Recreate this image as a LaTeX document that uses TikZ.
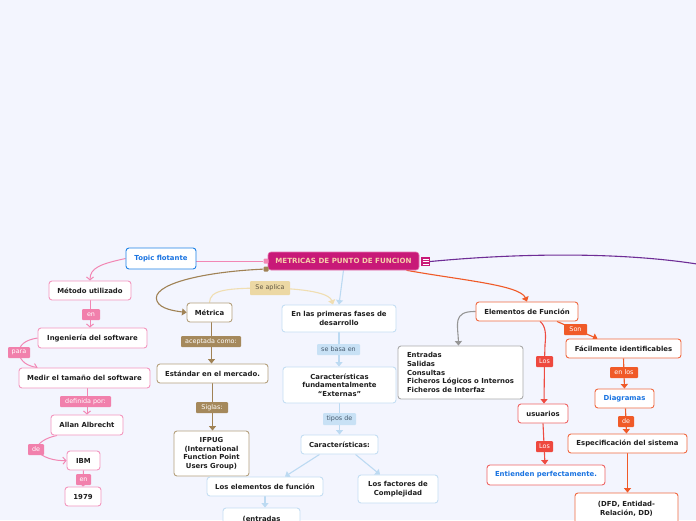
\documentclass[tikz,border=0pt]{standalone}
\usepackage{fontspec}
\setmainfont{DejaVu Sans}
\usetikzlibrary{arrows.meta,backgrounds}
\definecolor{bgc}{RGB}{243,245,254}
\definecolor{txt}{RGB}{30,30,30}
\definecolor{topicb}{RGB}{30,130,230}
\definecolor{bluet}{RGB}{25,115,225}
\definecolor{magc}{RGB}{200,25,120}
\definecolor{magl}{RGB}{230,120,175}
\definecolor{mainT}{RGB}{246,205,170}
\definecolor{purp}{RGB}{110,45,150}
\definecolor{pinkb}{RGB}{243,150,190}
\definecolor{pinkl}{RGB}{242,135,180}
\definecolor{pinkf}{RGB}{241,128,172}
\definecolor{brownb}{RGB}{180,160,125}
\definecolor{brownl}{RGB}{160,130,85}
\definecolor{brownf}{RGB}{165,137,92}
\definecolor{tanf}{RGB}{236,216,164}
\definecolor{tanl}{RGB}{240,222,178}
\definecolor{tant}{RGB}{95,85,65}
\definecolor{blueb}{RGB}{196,222,243}
\definecolor{bluel}{RGB}{188,218,242}
\definecolor{bluef}{RGB}{200,225,245}
\definecolor{bluelt}{RGB}{70,90,110}
\definecolor{orb}{RGB}{240,105,65}
\definecolor{orl}{RGB}{240,90,40}
\definecolor{orf}{RGB}{240,90,40}
\definecolor{redb}{RGB}{238,100,100}
\definecolor{redl}{RGB}{238,75,65}
\definecolor{redf}{RGB}{238,72,62}
\definecolor{grayb}{RGB}{170,170,170}
\definecolor{grayl}{RGB}{150,150,150}
\tikzset{
  sz/.style 2 args={minimum width=#1pt, minimum height=#2pt},
  box/.style={draw, fill=white, rounded corners=3pt, line width=0.9pt,
    font=\bfseries\fontsize{6.9}{8.6}\selectfont, text=txt, align=center, inner sep=1pt},
  pinkbox/.style={box, draw=pinkb},
  brownbox/.style={box, draw=brownb},
  bluebox/.style={box, draw=blueb},
  orbox/.style={box, draw=orb},
  redbox/.style={box, draw=redb},
  graybox/.style={box, draw=grayb},
  lab/.style={rounded corners=1pt, font=\fontsize{6.4}{7}\selectfont, text=white, inner sep=0pt},
  tipT/.style={-{Triangle[width=7pt,length=4.5pt]}},
  tipP/.style={-{Straight Barb[width=7pt,length=3pt]}},
  pinkc/.style={draw=pinkl, line width=1pt, tipP},
  brownc/.style={draw=brownl, line width=1.1pt, tipT},
  tanc/.style={draw=tanl, line width=1.1pt, tipT},
  bluec/.style={draw=bluel, line width=1.1pt, tipT},
  orc/.style={draw=orl, line width=1.1pt, tipT},
  redc/.style={draw=redl, line width=1.1pt, tipT},
  grayc/.style={draw=grayl, line width=1.1pt, tipT},
}
\begin{document}
\begin{tikzpicture}[x=1pt,y=-1pt]
\useasboundingbox (0,0) rectangle (696,520);
% central
\node[fill=magc, draw=magl, line width=0.6pt, rounded corners=3pt, text=mainT,
  font=\bfseries\fontsize{7.1}{8}\selectfont, sz={151}{18}, inner sep=0pt] (main) at (343.5,261) {METRICAS DE PUNTO DE FUNCION};
\node[fill=magc, sz={9}{9}, inner sep=0pt] (icon) at (425.5,261.5) {};
\draw[white, line width=0.6pt] (422.5,259) -- (428.5,259) (422.5,261.5) -- (428.5,261.5) (422.5,264) -- (428.5,264);
\node[fill=pinkl, rounded corners=1pt, sz={5}{5}, inner sep=0pt] (dp) at (266,261) {};
\node[fill=brownl, rounded corners=1pt, sz={5}{5}, inner sep=0pt] (db) at (266,269) {};
\coordinate (offr) at (697,264);
% topic flotante
\node[box, draw=topicb, text=bluet, sz={70}{21}] (topic) at (161,258.5) {Topic flotante};
% pink branch
\node[pinkbox, sz={82}{19}] (metodo) at (90,290.5) {Método utilizado};
\node[pinkbox, sz={109}{20}] (ingenieria) at (92.5,338) {Ingeniería del software};
\node[pinkbox, sz={131}{20}] (medir) at (84.5,378) {Medir el tamaño del software};
\node[pinkbox, sz={72}{20}] (allan) at (87,425) {Allan Albrecht};
\node[pinkbox, sz={33}{19}] (ibm) at (83.5,460.5) {IBM};
\node[pinkbox, sz={36}{19}] (y1979) at (83,496.5) {1979};
\node[lab, fill=pinkf, sz={18}{11}] (en1) at (91,314.5) {en};
\node[lab, fill=pinkf, sz={22}{11}] (para) at (19,352.5) {para};
\node[lab, fill=pinkf, sz={51}{11}] (definida) at (85.5,401.5) {definida por:};
\node[lab, fill=pinkf, sz={16}{11}] (de1) at (36,449.5) {de};
\node[lab, fill=pinkf, sz={15}{11}] (en2) at (83.5,479.5) {en};
% brown branch
\node[brownbox, sz={45}{19}] (metrica) at (209.5,312.5) {Métrica};
\node[brownbox, sz={111}{19}] (estandar) at (212.5,373.5) {Estándar en el mercado.};
\node[brownbox, sz={75}{45}] (ifpug) at (211.5,453.5) {IFPUG\\(International\\Function Point\\Users Group)};
\node[lab, fill=brownf, sz={60}{11}] (aceptada) at (211,341.5) {aceptada como:};
\node[lab, fill=brownf, sz={32}{11}] (siglas) at (212,407.5) {Siglas:};
\node[lab, fill=tanf, text=tant, sz={40}{14}] (seaplica) at (270,288) {Se aplica};
% blue branch
\node[bluebox, sz={114}{27}] (primeras) at (339,318.5) {En las primeras fases de\\desarrollo};
\node[bluebox, sz={113}{36}] (carfund) at (339.5,385) {Características\\fundamentalmente\\“Externas”};
\node[bluebox, sz={77}{19}] (caract) at (339.5,444.5) {Características:};
\node[bluebox, sz={116}{19}] (loselem) at (265,486.5) {Los elementos de función};
\node[bluebox, sz={80}{28}] (factores) at (398,489) {Los factores de\\Complejidad};
\node[bluebox, sz={77}{22}] (entr2) at (261.5,519) {(entradas};
\node[lab, fill=bluef, text=bluelt, sz={43}{11}] (sebasa) at (338.5,349.5) {se basa en};
\node[lab, fill=bluef, text=bluelt, sz={33}{12}] (tipos) at (339.5,419) {tipos de};
% orange / red branch
\node[orbox, sz={102}{19}] (elementos) at (527,311.5) {Elementos de Función};
\node[graybox, sz={125}{53}, align=left] (entradas) at (460.5,372.5) {Entradas\\Salidas\\Consultas\\Ficheros Lógicos o Internos\\Ficheros de Interfaz};
\node[orbox, sz={115}{19}] (facil) at (623.5,348.5) {Fácilmente identificables};
\node[orbox, sz={59}{19}, text=bluet] (diagramas) at (624.5,398.5) {Diagramas};
\node[orbox, sz={119}{19}] (espec) at (627.5,443.5) {Especificación del sistema};
\node[orbox, sz={103}{32}] (dfd) at (626.5,509) {(DFD, Entidad-\\Relación, DD)};
\node[redbox, sz={50}{19}] (usuarios) at (543,413.5) {usuarios};
\node[redbox, sz={118}{20}, text=bluet] (entienden) at (546,475) {Entienden perfectamente.};
\node[lab, fill=orf, sz={23}{11}] (son) at (575.5,329.5) {Son};
\node[lab, fill=orf, sz={28}{11}] (enlos) at (624,372.5) {en los};
\node[lab, fill=orf, sz={16}{11}] (de2) at (626,421.5) {de};
\node[lab, fill=redf, sz={17}{11}] (los1) at (544.5,361.5) {Los};
\node[lab, fill=redf, sz={17}{11}] (los2) at (544.5,446.5) {Los};
\begin{pgfonlayer}{background}
\fill[bgc] (0,0) rectangle (696,520);
% main links
\draw[draw=pinkl, line width=1pt] (dp) -- (dp -| topic.east);
\draw[draw=purp, line width=1.1pt] (icon.east) .. controls (520,253) and (620,252) .. (offr);
\draw[bluec] (main.south) -- (primeras.north);
\draw[orc] ([xshift=63pt]main.south) .. controls (460,280) and (520,285) .. (elementos.north);
\draw[brownc] (db) .. controls (200,272) and (150,285) .. (157,301) .. controls (160,309) and (175,311) .. (metrica.west);
% pink
\draw[pinkc] (topic.west) .. controls (100,264) and (90,268) .. (metodo.north);
\draw[pinkc] (metodo.south) -- (metodo.south |- ingenieria.north);
\draw[pinkc] (ingenieria.west) .. controls (25,340) and (19,345) .. (para.center) .. controls (20,362) and (28,366) .. ([xshift=19pt]medir.north west);
\draw[pinkc] (allan.north |- medir.south) -- (allan.north);
\draw[pinkc] ([xshift=-30pt]allan.south) .. controls (45,438) and (38,443) .. (de1.center) .. controls (42,458) and (55,461) .. (ibm.west);
\draw[pinkc] (ibm.south) -- (y1979.north);
% brown / tan
\draw[brownc] ([xshift=2pt]metrica.south) -- ([xshift=-1pt]estandar.north);
\draw[brownc] (estandar.south) -- (estandar.south |- ifpug.north);
\draw[tanc] (metrica.north) .. controls (210,290) and (225,288) .. (seaplica.center) .. controls (315,289) and (330,295) .. ([xshift=-6pt]primeras.north);
% blue
\draw[bluec] (primeras.south) -- (primeras.south |- carfund.north);
\draw[bluec] (carfund.south) -- (caract.north);
\draw[bluec] ([xshift=-20pt]caract.south) -- ([xshift=20pt]loselem.north);
\draw[bluec] ([xshift=16pt]caract.south) -- ([xshift=-18pt]factores.north);
\draw[bluec] (loselem.south) -- (loselem.south |- entr2.north);
% orange/red
\draw[grayc] (elementos.west) .. controls (452,311) and (458,325) .. ([xshift=-2pt]entradas.north);
\draw[orc] ([xshift=30pt]elementos.south) -- (son.center) -- ([xshift=-26pt]facil.north);
\draw[orc] (facil.south) -- (diagramas.north);
\draw[orc] ([xshift=1pt]diagramas.south) -- ([xshift=-1pt]espec.north);
\draw[orc] (espec.south) -- (espec.south |- dfd.north);
\draw[redc] ([xshift=13pt]elementos.south) .. controls (546,326) and (546,335) .. (545,345) -- (los1.center) -- ([xshift=1pt]usuarios.north);
\draw[redc] (usuarios.south) -- ([xshift=-1pt]entienden.north);
\end{pgfonlayer}
\end{tikzpicture}
\end{document}
